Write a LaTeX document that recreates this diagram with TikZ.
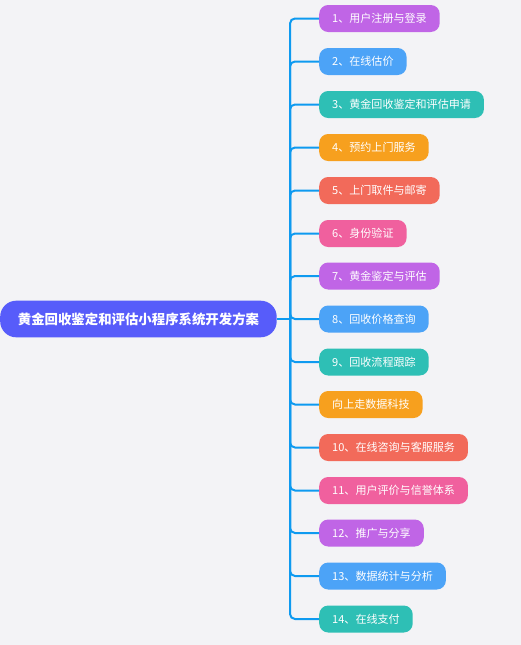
\documentclass[tikz,border=0pt]{standalone}
\usepackage{fontspec}
\setmainfont{Noto Sans CJK SC}
\begin{document}
\definecolor{bgc}{RGB}{243,243,246}
\definecolor{linec}{RGB}{14,154,240}
\definecolor{rootc}{RGB}{87,92,250}
\definecolor{cpurple}{RGB}{192,101,230}
\definecolor{cblue}{RGB}{76,163,247}
\definecolor{cteal}{RGB}{46,191,181}
\definecolor{corange}{RGB}{247,160,30}
\definecolor{ccoral}{RGB}{242,106,90}
\definecolor{cpink}{RGB}{240,96,158}
\begin{tikzpicture}[x=1pt,y=-1pt,
  rootbox/.style={fill=rootc, rounded corners=16pt, text=white, minimum height=36.6pt, minimum width=276.5pt, inner sep=0pt, font=\fontsize{13.4pt}{16pt}\selectfont\bfseries, anchor=west},
  leaf/.style={fill=#1, rounded corners=9pt, text=white, minimum height=27pt, inner xsep=13pt, inner ysep=0pt, anchor=west, font=\fontsize{11.05pt}{13pt}\selectfont},
  conn/.style={draw=linec, line width=2pt, rounded corners=5pt}]
\fill[bgc] (0,0) rectangle (521,645);
\useasboundingbox (0,0) rectangle (521,645);
\node[rootbox] (root) at (0,319) {黄金回收鉴定和评估小程序系统开发方案};
\coordinate (j) at (290,319);
\node[leaf=cpurple] (n1) at (319,18.5) {1、用户注册与登录};
\node[leaf=cblue] (n2) at (319,61.5) {2、在线估价};
\node[leaf=cteal] (n3) at (319,104.5) {3、黄金回收鉴定和评估申请};
\node[leaf=corange] (n4) at (319,147.5) {4、预约上门服务};
\node[leaf=ccoral] (n5) at (319,190.5) {5、上门取件与邮寄};
\node[leaf=cpink] (n6) at (319,233.5) {6、身份验证};
\node[leaf=cpurple] (n7) at (319,276) {7、黄金鉴定与评估};
\node[leaf=cblue] (n8) at (319,319) {8、回收价格查询};
\node[leaf=cteal] (n9) at (319,362) {9、回收流程跟踪};
\node[leaf=corange] (n9b) at (319,404.5) {向上走数据科技};
\node[leaf=ccoral] (n10) at (319,447.5) {10、在线咨询与客服服务};
\node[leaf=cpink] (n11) at (319,490.5) {11、用户评价与信誉体系};
\node[leaf=cpurple] (n12) at (319,533) {12、推广与分享};
\node[leaf=cblue] (n13) at (319,576) {13、数据统计与分析};
\node[leaf=cteal] (n14) at (319,619) {14、在线支付};
\draw[conn] (root.east) -- (j);
\foreach \n in {n1,n2,n3,n4,n5,n6,n7,n8,n9,n9b,n10,n11,n12,n13,n14}{
  \draw[conn] (j) |- (\n.west);
}
\end{tikzpicture}
\end{document}
